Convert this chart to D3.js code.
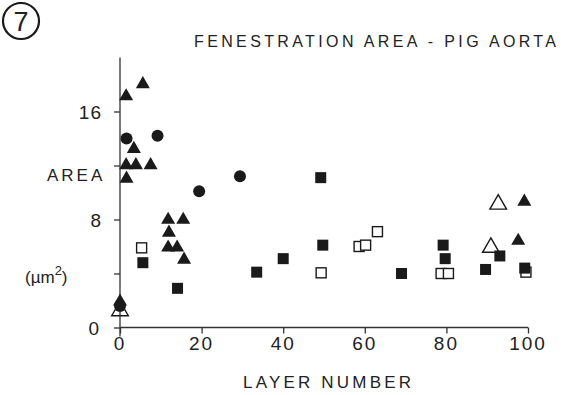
<!DOCTYPE html>
<html>
<head>
<meta charset="utf-8">
<script src="https://cdn.jsdelivr.net/npm/d3@7"></script>
<style>
  body { margin: 0; background: #fff; }
  svg text { font-family: "Liberation Sans", "DejaVu Sans", sans-serif; fill: #222; }
</style>
</head>
<body>
<svg id="chart" width="564" height="395"></svg>
<script>
// layer number / area (um^2)
const filledTriX = [5.6, 1.5, 3.4, 1.5, 3.9, 7.5, 1.6, 11.8, 15.5, 12.0, 11.8, 14.0, 15.7, 99.1, 97.6, 0]
const filledTriY = [18.1, 17.2, 13.3, 12.1, 12.1, 12.1, 11.1, 8.05, 8.05, 7.1, 6.0, 6.0, 5.1, 9.4, 6.5, 2.0]

const openTriX = [92.7, 90.9, 0]
const openTriY = [9.2, 6.0, 1.3]

const circleX = [1.6, 9.2, 19.4, 29.4, 0]
const circleY = [14.0, 14.2, 10.1, 11.2, 1.6]

const filledSqX = [5.6, 14.1, 33.5, 40.0, 49.2, 49.7, 69.0, 79.2, 79.7, 89.6, 93.1, 99.2]
const filledSqY = [4.8, 2.9, 4.1, 5.1, 11.1, 6.1, 4.0, 6.1, 5.1, 4.3, 5.3, 4.4]

const openSqX = [5.3, 49.3, 58.6, 60.2, 63.1, 78.7, 80.5, 99.5]
const openSqY = [5.9, 4.05, 6.0, 6.1, 7.1, 4.0, 4.0, 4.1]

const xTicks = [0, 20, 40, 60, 80, 100]
const yTicks = [0, 4, 8, 12, 16]
const yLabels = [0, 8, 16]

const svg = d3.select("#chart")
const ink = "#1a1a1a"

const xScale = d3.scaleLinear().domain([0, 100]).range([120, 528])
const yScale = d3.scaleLinear().domain([0, 20]).range([327.5, 57.5])

const zip = (xs, ys) => xs.map((x, i) => ({x: x, y: ys[i]}))

// axes
const xAxis = d3.axisBottom(xScale).tickValues(xTicks).tickSize(6).tickFormat("")
const yAxis = d3.axisLeft(yScale).tickValues(yTicks).tickSize(6).tickFormat("")

const gx = svg.append("g").attr("transform", `translate(0, ${yScale(0)})`).call(xAxis)
const gy = svg.append("g").attr("transform", `translate(${xScale(0)}, 0)`).call(yAxis)
gx.select(".domain").attr("d", `M${xScale(0)},0H${xScale(100)}`)
gy.select(".domain").attr("d", `M0,${yScale(20)}V${yScale(0) + 9}`)
svg.selectAll(".domain, .tick line").attr("stroke", "#333").attr("stroke-width", 1.3)

// tick labels
svg.selectAll(".xlab")
    .data(xTicks)
    .enter()
    .append("text")
    .attr("x", d => xScale(d))
    .attr("y", 350)
    .attr("text-anchor", "middle")
    .attr("font-size", 19)
    .attr("letter-spacing", 2)
    .text(d => d)

svg.selectAll(".ylab")
    .data(yLabels)
    .enter()
    .append("text")
    .attr("x", d => d == 0 ? 100 : 102)
    .attr("y", d => yScale(d) + 7)
    .attr("text-anchor", "end")
    .attr("font-size", 19)
    .attr("letter-spacing", 1)
    .text(d => d)

// axis titles
svg.append("text")
    .attr("x", 47).attr("y", 181)
    .attr("font-size", 17).attr("letter-spacing", 3)
    .text("AREA")

const unit = svg.append("text")
    .attr("x", 25).attr("y", 283)
    .attr("font-size", 17)
unit.append("tspan").text("(\u00b5m")
unit.append("tspan").attr("font-size", 13).attr("dy", -8).text("2")
unit.append("tspan").attr("dy", 8).text(")")

svg.append("text")
    .attr("x", 243).attr("y", 388)
    .attr("font-size", 17)
    .attr("textLength", 168).attr("lengthAdjust", "spacing")
    .text("LAYER  NUMBER")

svg.append("text")
    .attr("x", 194).attr("y", 47)
    .attr("font-size", 16)
    .attr("textLength", 362).attr("lengthAdjust", "spacing")
    .text("FENESTRATION  AREA - PIG  AORTA")

// panel number
svg.append("circle")
    .attr("cx", 21).attr("cy", 21).attr("r", 18)
    .attr("fill", "none").attr("stroke", ink).attr("stroke-width", 2.2)
svg.append("text")
    .attr("x", 21).attr("y", 31)
    .attr("text-anchor", "middle")
    .attr("font-size", 27)
    .text("7")

// markers
const tri = d3.symbol().type(d3.symbolTriangle)

svg.selectAll(".ft")
    .data(zip(filledTriX, filledTriY))
    .enter()
    .append("path")
    .attr("d", tri.size(85))
    .attr("transform", d => `translate(${xScale(d.x)}, ${yScale(d.y) + 1})`)
    .attr("fill", ink)

svg.selectAll(".ot")
    .data(zip(openTriX, openTriY))
    .enter()
    .append("path")
    .attr("d", tri.size(120))
    .attr("transform", d => `translate(${xScale(d.x)}, ${yScale(d.y) + 1})`)
    .attr("fill", "none")
    .attr("stroke", ink)
    .attr("stroke-width", 1.4)

svg.selectAll(".fc")
    .data(zip(circleX, circleY))
    .enter()
    .append("circle")
    .attr("cx", d => xScale(d.x))
    .attr("cy", d => yScale(d.y))
    .attr("r", 6)
    .attr("fill", ink)

svg.selectAll(".os")
    .data(zip(openSqX, openSqY))
    .enter()
    .append("rect")
    .attr("x", d => xScale(d.x) - 5)
    .attr("y", d => yScale(d.y) - 5)
    .attr("width", 10)
    .attr("height", 10)
    .attr("fill", "#fff")
    .attr("stroke", ink)
    .attr("stroke-width", 1.4)

svg.selectAll(".fs")
    .data(zip(filledSqX, filledSqY))
    .enter()
    .append("rect")
    .attr("x", d => xScale(d.x) - 5.5)
    .attr("y", d => yScale(d.y) - 5.5)
    .attr("width", 11)
    .attr("height", 11)
    .attr("fill", ink)
</script>
</body>
</html>
